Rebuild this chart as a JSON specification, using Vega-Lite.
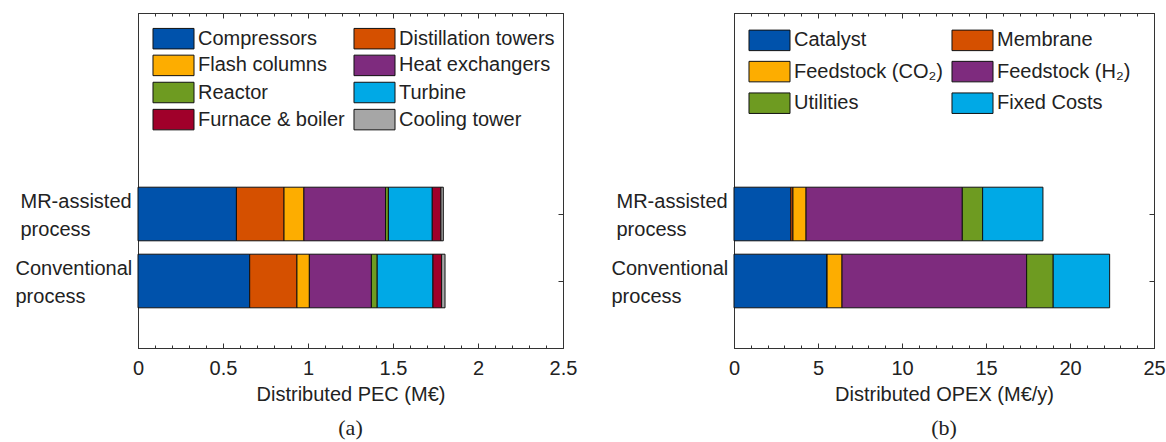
{
  "$schema": "https://vega.github.io/schema/vega-lite/v6.json",
  "background": "white",
  "padding": {"left": 14, "top": 12, "right": 5, "bottom": 0},
  "datasets": {
    "pec": [
      {"process": "MR-assisted process", "component": "Compressors", "cost": 0.579},
      {"process": "MR-assisted process", "component": "Distillation towers", "cost": 0.280},
      {"process": "MR-assisted process", "component": "Flash columns", "cost": 0.117},
      {"process": "MR-assisted process", "component": "Heat exchangers", "cost": 0.480},
      {"process": "MR-assisted process", "component": "Reactor", "cost": 0.017},
      {"process": "MR-assisted process", "component": "Turbine", "cost": 0.258},
      {"process": "MR-assisted process", "component": "Furnace & boiler", "cost": 0.051},
      {"process": "MR-assisted process", "component": "Cooling tower", "cost": 0.014},
      {"process": "Conventional process", "component": "Compressors", "cost": 0.657},
      {"process": "Conventional process", "component": "Distillation towers", "cost": 0.278},
      {"process": "Conventional process", "component": "Flash columns", "cost": 0.073},
      {"process": "Conventional process", "component": "Heat exchangers", "cost": 0.365},
      {"process": "Conventional process", "component": "Reactor", "cost": 0.034},
      {"process": "Conventional process", "component": "Turbine", "cost": 0.328},
      {"process": "Conventional process", "component": "Furnace & boiler", "cost": 0.051},
      {"process": "Conventional process", "component": "Cooling tower", "cost": 0.020}
    ],
    "opex": [
      {"process": "MR-assisted process", "item": "Catalyst", "cost": 3.38},
      {"process": "MR-assisted process", "item": "Membrane", "cost": 0.13},
      {"process": "MR-assisted process", "item": "Feedstock (CO₂)", "cost": 0.78},
      {"process": "MR-assisted process", "item": "Feedstock (H₂)", "cost": 9.30},
      {"process": "MR-assisted process", "item": "Utilities", "cost": 1.21},
      {"process": "MR-assisted process", "item": "Fixed Costs", "cost": 3.59},
      {"process": "Conventional process", "item": "Catalyst", "cost": 5.54},
      {"process": "Conventional process", "item": "Membrane", "cost": 0},
      {"process": "Conventional process", "item": "Feedstock (CO₂)", "cost": 0.89},
      {"process": "Conventional process", "item": "Feedstock (H₂)", "cost": 10.99},
      {"process": "Conventional process", "item": "Utilities", "cost": 1.58},
      {"process": "Conventional process", "item": "Fixed Costs", "cost": 3.36}
    ]
  },
  "config": {
    "font": "Liberation Sans",
    "view": {"stroke": "#333333", "strokeWidth": 1},
    "axis": {
      "grid": false,
      "labelFont": "Liberation Sans",
      "labelFontSize": 20,
      "labelColor": "#222222",
      "titleFont": "Liberation Sans",
      "titleFontSize": 20,
      "titleFontWeight": "normal",
      "titleColor": "#222222",
      "domainColor": "#333333",
      "tickColor": "#333333",
      "domainWidth": 1,
      "tickWidth": 1
    },
    "legend": {
      "orient": "none",
      "direction": "horizontal",
      "columns": 2,
      "padding": 0,
      "symbolType": "M-2.158,-1.079H2.158V1.079H-2.158Z",
      "symbolSize": 361,
      "symbolStrokeColor": "#111111",
      "symbolStrokeWidth": 1,
      "symbolOpacity": 1,
      "labelFont": "Liberation Sans",
      "labelFontSize": 20,
      "labelColor": "#222222",
      "labelOffset": 14.5,
      "labelLimit": 400,
      "title": null
    },
    "bar": {"stroke": "#111111", "strokeWidth": 1}
  },
  "spacing": 32,
  "resolve": {"scale": {"color": "independent"}},
  "hconcat": [
    {
      "width": 425,
      "height": 335,
      "data": {"name": "pec"},
      "transform": [
        {"calculate": "indexof(['Compressors', 'Distillation towers', 'Flash columns', 'Heat exchangers', 'Reactor', 'Turbine', 'Furnace & boiler', 'Cooling tower'], datum.component)", "as": "stack_order"}
      ],
      "title": {"text": "(a)", "orient": "bottom", "font": "Liberation Serif", "fontSize": 22, "fontWeight": "normal", "color": "#222222", "offset": 14},
      "layer": [
        {
          "mark": {"type": "bar"},
          "encoding": {
            "y": {
              "field": "process", "type": "nominal",
              "scale": {"domain": ["spacer1", "spacer2", "MR-assisted process", "Conventional process"], "paddingInner": 0.2, "paddingOuter": 0.6},
              "axis": {
                "orient": "left", "title": null, "ticks": false, "domain": true,
                "values": ["MR-assisted process", "Conventional process"],
                "labelExpr": "split(datum.label, ' ')",
                "labelAlign": "left", "labelBaseline": "middle", "labelLineHeight": 28, "labelOffset": -12,
                "labelPadding": {"condition": {"test": "datum.value === 'MR-assisted process'", "value": 118}, "value": 123}
              }
            },
            "x": {
              "field": "cost", "type": "quantitative", "stack": "zero",
              "scale": {"domain": [0, 2.5], "nice": false, "zero": true},
              "axis": {
                "orient": "bottom",
                "title": "Distributed PEC (M€)",
                "values": [0, 0.1, 0.2, 0.3, 0.4, 0.5, 0.6, 0.7, 0.8, 0.9, 1, 1.1, 1.2, 1.3, 1.4, 1.5, 1.6, 1.7, 1.8, 1.9, 2, 2.1, 2.2, 2.3, 2.4, 2.5],
                "labelExpr": "abs(datum.value * 2 - round(datum.value * 2)) < 1e-6 ? '' + datum.value : ''",
                "tickSize": {"condition": {"test": "abs(datum.value * 2 - round(datum.value * 2)) < 1e-6", "value": -5}, "value": -3},
                "labelPadding": 15,
                "labelFlush": false,
                "labelOverlap": false,
                "titlePadding": 4
              }
            },
            "color": {
              "field": "component", "type": "nominal",
              "scale": {
                "domain": ["Compressors", "Distillation towers", "Flash columns", "Heat exchangers", "Reactor", "Turbine", "Furnace & boiler", "Cooling tower"],
                "range": ["#0052AB", "#D55000", "#FDAD00", "#7E2B7E", "#6E9B21", "#00A9E6", "#A0002A", "#A6A6A6"]
              },
              "legend": {"legendX": 25.5, "legendY": 15.3, "rowPadding": 1.1, "columnPadding": 6}
            },
            "order": {"field": "stack_order", "type": "quantitative"}
          }
        },
        {
          "mark": {"type": "bar", "opacity": 0, "strokeOpacity": 0},
          "encoding": {
            "y": {
              "field": "process", "type": "nominal",
              "axis": {"orient": "right", "title": null, "labels": false, "ticks": true, "tickSize": -5, "domain": true, "values": ["MR-assisted process", "Conventional process"]}
            },
            "x": {
              "field": "cost", "type": "quantitative", "stack": "zero",
              "axis": {
                "orient": "top", "title": null, "labels": false, "domain": true,
                "values": [0, 0.1, 0.2, 0.3, 0.4, 0.5, 0.6, 0.7, 0.8, 0.9, 1, 1.1, 1.2, 1.3, 1.4, 1.5, 1.6, 1.7, 1.8, 1.9, 2, 2.1, 2.2, 2.3, 2.4, 2.5],
                "tickSize": {"condition": {"test": "abs(datum.value * 2 - round(datum.value * 2)) < 1e-6", "value": -5}, "value": -3}
              }
            }
          }
        }
      ],
      "resolve": {"axis": {"x": "independent", "y": "independent"}}
    },
    {
      "width": 420,
      "height": 335,
      "data": {"name": "opex"},
      "transform": [
        {"calculate": "indexof(['Catalyst', 'Membrane', 'Feedstock (CO₂)', 'Feedstock (H₂)', 'Utilities', 'Fixed Costs'], datum.item)", "as": "stack_order"}
      ],
      "title": {"text": "(b)", "orient": "bottom", "font": "Liberation Serif", "fontSize": 22, "fontWeight": "normal", "color": "#222222", "offset": 14},
      "layer": [
        {
          "mark": {"type": "bar"},
          "encoding": {
            "y": {
              "field": "process", "type": "nominal",
              "scale": {"domain": ["spacer1", "spacer2", "MR-assisted process", "Conventional process"], "paddingInner": 0.2, "paddingOuter": 0.6},
              "axis": {
                "orient": "left", "title": null, "ticks": false, "domain": true,
                "values": ["MR-assisted process", "Conventional process"],
                "labelExpr": "split(datum.label, ' ')",
                "labelAlign": "left", "labelBaseline": "middle", "labelLineHeight": 28, "labelOffset": -12,
                "labelPadding": {"condition": {"test": "datum.value === 'MR-assisted process'", "value": 118}, "value": 123}
              }
            },
            "x": {
              "field": "cost", "type": "quantitative", "stack": "zero",
              "scale": {"domain": [0, 25], "nice": false, "zero": true},
              "axis": {
                "orient": "bottom",
                "title": "Distributed OPEX (M€/y)",
                "values": [0, 1, 2, 3, 4, 5, 6, 7, 8, 9, 10, 11, 12, 13, 14, 15, 16, 17, 18, 19, 20, 21, 22, 23, 24, 25],
                "labelExpr": "datum.value % 5 === 0 ? '' + datum.value : ''",
                "tickSize": {"condition": {"test": "datum.value % 5 === 0", "value": -5}, "value": -3},
                "labelPadding": 15,
                "labelFlush": false,
                "labelOverlap": false,
                "titlePadding": 4
              }
            },
            "color": {
              "field": "item", "type": "nominal",
              "scale": {
                "domain": ["Catalyst", "Membrane", "Feedstock (CO₂)", "Feedstock (H₂)", "Utilities", "Fixed Costs"],
                "range": ["#0052AB", "#D55000", "#FDAD00", "#7E2B7E", "#6E9B21", "#00A9E6"]
              },
              "legend": {"legendX": 25.5, "legendY": 17, "rowPadding": 5.6, "columnPadding": 6}
            },
            "order": {"field": "stack_order", "type": "quantitative"}
          }
        },
        {
          "mark": {"type": "bar", "opacity": 0, "strokeOpacity": 0},
          "encoding": {
            "y": {
              "field": "process", "type": "nominal",
              "axis": {"orient": "right", "title": null, "labels": false, "ticks": true, "tickSize": -5, "domain": true, "values": ["MR-assisted process", "Conventional process"]}
            },
            "x": {
              "field": "cost", "type": "quantitative", "stack": "zero",
              "axis": {
                "orient": "top", "title": null, "labels": false, "domain": true,
                "values": [0, 1, 2, 3, 4, 5, 6, 7, 8, 9, 10, 11, 12, 13, 14, 15, 16, 17, 18, 19, 20, 21, 22, 23, 24, 25],
                "tickSize": {"condition": {"test": "datum.value % 5 === 0", "value": -5}, "value": -3}
              }
            }
          }
        }
      ],
      "resolve": {"axis": {"x": "independent", "y": "independent"}}
    }
  ]
}
